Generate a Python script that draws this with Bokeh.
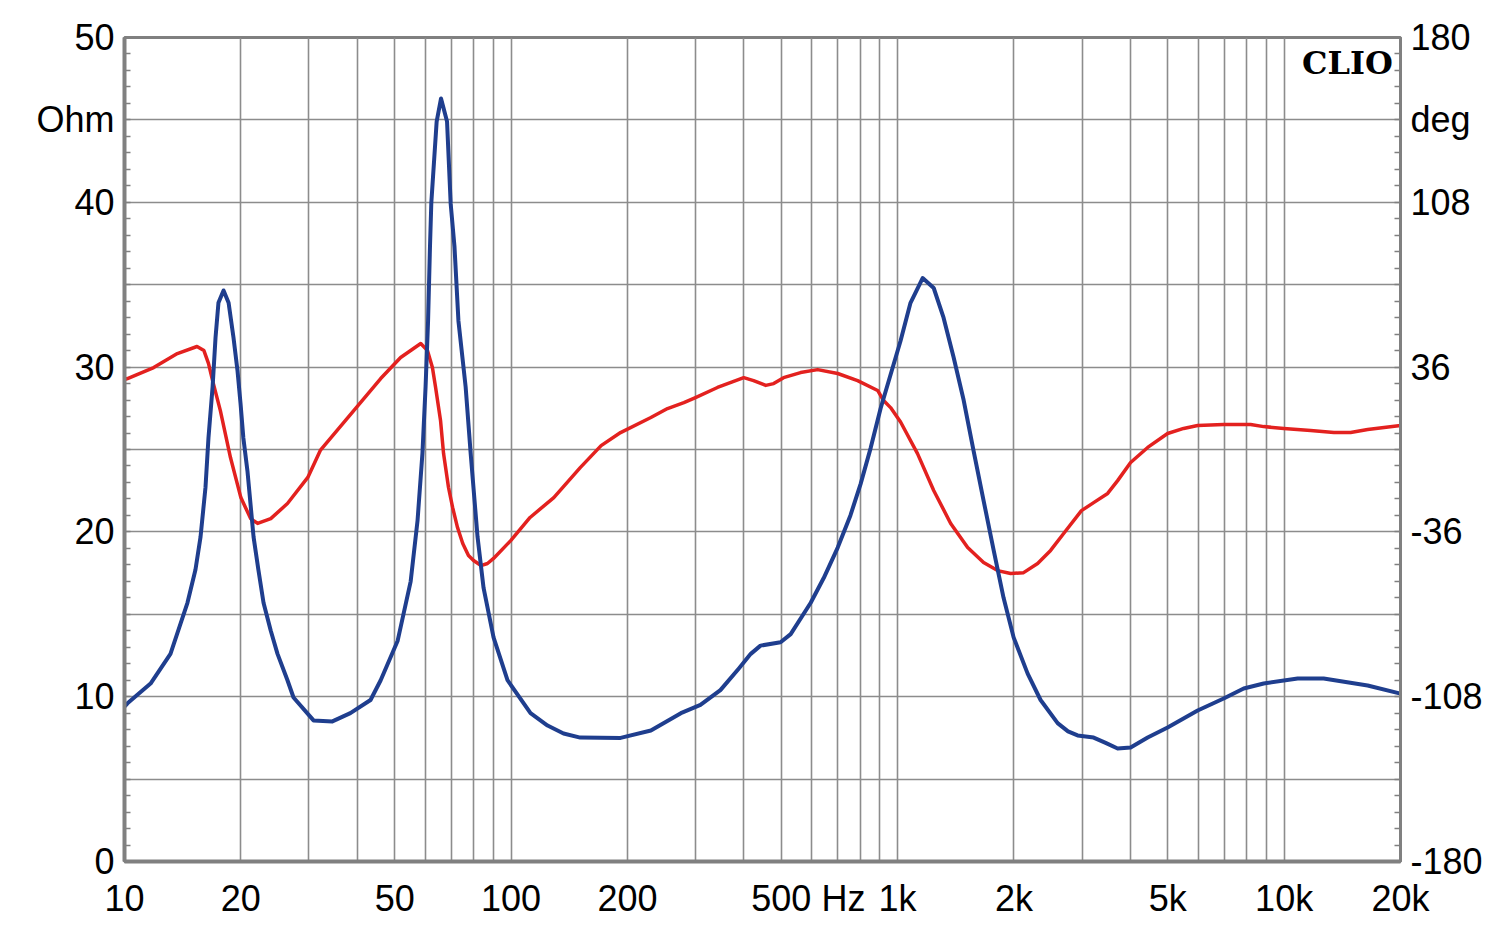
from bokeh.plotting import figure
from bokeh.models import Range1d, LinearAxis, FixedTicker, Label
from bokeh.embed import file_html
from bokeh.resources import INLINE

# ---- data ----
freq_z = [10, 10.18, 11.68, 13.15, 14.55, 15.26, 15.73, 16.2, 16.49, 16.9, 17.2, 17.5, 18.04,
          18.59, 19.14, 19.6, 19.96, 20.3, 20.8, 21.57, 22.2, 22.89, 23.9, 24.88, 26.4, 27.37,
          30.83, 34.5, 38.4, 43.3, 46.0, 50.9, 55.0, 57.3, 59.0, 60.1, 61.0, 61.7, 62.2, 64.2,
          65.9, 68.3, 69.8, 71.4, 73.1, 76.3, 78.6, 81.9, 84.9, 90.1, 97.9, 112.3, 124.3, 136.7,
          151, 192, 230, 275, 309, 348, 388, 417, 442, 498, 529, 596, 644, 700, 755, 802, 852,
          904, 1018, 1080, 1161, 1240, 1315, 1396, 1482, 1573, 1669, 1772, 1880, 1996, 2170,
          2344, 2594, 2760, 2922, 3215, 3453, 3709, 4007, 4436, 4995, 5974, 6975, 7859,
          8851, 10840, 12655, 16445, 20000]
z_ohm = [9.4, 9.6, 10.8, 12.6, 15.7, 17.7, 19.7, 22.7, 25.7, 28.8, 31.8, 33.9, 34.65,
         33.9, 31.8, 29.8, 27.8, 25.7, 23.7, 19.7, 17.7, 15.7, 14.0, 12.6, 11.0, 9.95,
         8.56, 8.5, 9.0, 9.8, 11.0, 13.4, 17.0, 20.7, 24.8, 28.8, 32.8, 37.3, 40.0, 44.9,
         46.3, 44.9, 39.9, 37.3, 32.8, 28.8, 24.8, 19.7, 16.6, 13.6, 11.0, 9.0, 8.25, 7.77,
         7.52, 7.5, 7.95, 9.0, 9.5, 10.4, 11.7, 12.6, 13.1, 13.3, 13.8, 15.7, 17.2, 19.05, 21.0, 22.9, 25.1,
         27.5, 31.6, 33.9, 35.4, 34.8, 33.0, 30.6, 28.0, 24.9, 21.9, 18.9, 16.0, 13.6, 11.4,
         9.8, 8.4, 7.9, 7.65, 7.52, 7.2, 6.86, 6.92, 7.52, 8.13, 9.16, 9.89, 10.5,
         10.8, 11.1, 11.1, 10.68, 10.19]

freq_ph = [10, 10.18, 11.9, 13.7, 15.4, 16.05, 16.49, 16.9, 17.7, 18.8, 20.0, 21.2, 22.1, 23.9,
           26.4, 29.8, 32.1, 46.0, 51.8, 58.4, 60.8, 62.6, 63.8, 65.7, 66.9, 68.9, 70.6, 72.7,
           75.0, 77.6, 80.0, 83.6, 86.9, 90.1, 99.8, 112, 129, 151, 171, 192, 230, 254, 280,
           300, 342, 400, 424, 456, 478, 507, 561, 621, 700, 788, 888, 920, 959, 1018, 1126,
           1240, 1372, 1518, 1669, 1814, 1961, 2118, 2303, 2488, 2689, 2990, 3215, 3495, 3709,
           4007, 4436, 4995, 5495, 5974, 6975, 8190, 8851, 9979, 11710, 13450, 14860, 16450,
           20000]
phase_deg = [30.6, 31.0, 35.8, 41.9, 45.0, 43.2, 37.6, 30.1, 17.0, -3.5, -21.0, -30.2, -32.3, -30.2,
             -23.6, -12.2, -0.4, 31.0, 40.2, 46.3, 43.2, 35.8, 27.1, 12.7, -1.8, -16.6, -25.3, -34.1,
             -41.1, -46.3, -48.5, -50.7, -49.8, -47.6, -39.8, -29.7, -21.0, -7.9, 1.7, 7.4, 14.0, 17.9, 20.5,
             22.7, 27.1, 31.4, 30.1, 28.0, 28.8, 31.4, 33.6, 34.9, 33.2, 30.1, 25.8, 21.4, 18.3, 12.0, -1.8,
             -17.9, -32.3, -42.8, -49.4, -52.9, -54.2, -53.8, -49.8, -44.1, -36.7, -26.7, -23.2, -19.2, -13.6,
             -5.7, 0.9, 7.0, 9.2, 10.5, 10.9, 10.9, 10.0, 9.2, 8.3, 7.4, 7.4, 8.7,
             10.5]

x_ticks = [10, 20, 50, 100, 200, 500, 725, 1000, 2000, 5000, 10000, 20000]
x_tick_labels = ["10", "20", "50", "100", "200", "500", "Hz", "1k", "2k", "5k", "10k", "20k"]
x_grid = [m * 10 ** d for d in range(1, 5) for m in range(1, 10) if m * 10 ** d <= 20000]

y_ticks = [0, 10, 20, 30, 40, 45, 50]
y_tick_labels = ["0", "10", "20", "30", "40", "Ohm", "50"]
y_grid = [0, 5, 10, 15, 20, 25, 30, 35, 40, 45, 50]

ph_ticks = [-180, -108, -36, 36, 108, 144, 180]
ph_tick_labels = ["-180", "-108", "-36", "36", "108", "deg", "180"]

GRID = "#8c8c8c"
AXIS = "#808080"
FONT = "Liberation Sans"
FS = "36px"

p = figure(width=1500, height=934, x_axis_type="log",
           x_range=Range1d(10, 20000), y_range=Range1d(0, 50),
           output_backend="svg", toolbar_location=None,
           min_border_left=124, min_border_right=100,
           min_border_top=37, min_border_bottom=73)
p.background_fill_color = "white"
p.border_fill_color = "white"
p.outline_line_color = AXIS
p.outline_line_width = 3

p.extra_y_ranges = {"phase": Range1d(-180, 180)}

# grids
p.xgrid.ticker = FixedTicker(ticks=x_grid)
p.ygrid.ticker = FixedTicker(ticks=y_grid)
p.xgrid.grid_line_color = GRID
p.ygrid.grid_line_color = GRID
p.xgrid.grid_line_width = 1.6
p.ygrid.grid_line_width = 1.6

# bottom axis
xa = p.xaxis[0]
xa.ticker = FixedTicker(ticks=x_ticks)
xa.major_label_overrides = {t: s for t, s in zip(x_ticks, x_tick_labels)}
xa.major_tick_in = 0
xa.major_tick_out = 0
xa.minor_tick_in = 0
xa.minor_tick_out = 0
xa.axis_line_color = AXIS
xa.axis_line_width = 4
xa.major_label_standoff = 16
xa.major_label_text_font = FONT
xa.major_label_text_font_size = FS
xa.major_label_text_color = "black"

# left axis
ya = p.yaxis[0]
ya.ticker = FixedTicker(ticks=y_ticks, minor_ticks=list(range(0, 51)))
ya.major_label_overrides = {t: s for t, s in zip(y_ticks, y_tick_labels)}
ya.major_tick_in = 0
ya.major_tick_out = 0
ya.minor_tick_in = 6
ya.minor_tick_out = 0
ya.minor_tick_line_color = AXIS
ya.minor_tick_line_width = 1.5
ya.axis_line_color = AXIS
ya.axis_line_width = 4
ya.major_label_standoff = 10
ya.major_label_text_font = FONT
ya.major_label_text_font_size = FS
ya.major_label_text_color = "black"

# right axis (phase)
ra = LinearAxis(y_range_name="phase")
ra.ticker = FixedTicker(ticks=ph_ticks, minor_ticks=[-180 + 7.2 * i for i in range(51)])
ra.major_label_overrides = {t: s for t, s in zip(ph_ticks, ph_tick_labels)}
ra.major_tick_in = 0
ra.major_tick_out = 0
ra.minor_tick_in = 6
ra.minor_tick_out = 0
ra.minor_tick_line_color = AXIS
ra.minor_tick_line_width = 1.5
ra.axis_line_color = AXIS
ra.axis_line_width = 3
ra.major_label_standoff = 10
ra.major_label_text_font = FONT
ra.major_label_text_font_size = FS
ra.major_label_text_color = "black"
p.add_layout(ra, "right")

# curves
p.line(freq_ph, phase_deg, y_range_name="phase", line_color="#e3211f", line_width=3.5,
       line_join="round")
p.line(freq_z, z_ohm, line_color="#1f3e8e", line_width=4, line_join="round")

p.add_layout(Label(x=19100, y=49.6, text="CLIO", text_align="right", text_baseline="top",
                   text_font="DejaVu Serif", text_font_style="bold", text_font_size="32px",
                   text_color="black"))

open("out.html", "w").write(file_html(p, INLINE))
